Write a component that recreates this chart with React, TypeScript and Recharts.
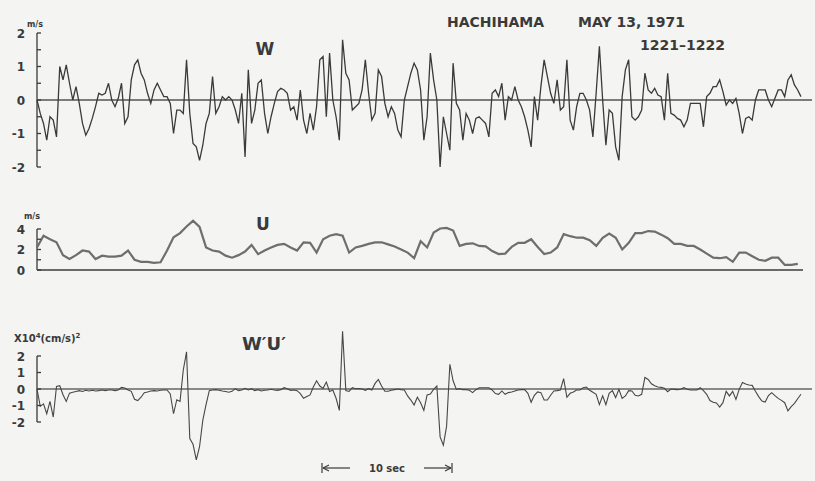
import React from "react";
import { LineChart, Line, XAxis, YAxis, ReferenceLine } from "recharts";

// sample spacing in seconds (the trace is 1 min long, 10 sec = 130 px)
const W_STEP = 0.25;
const U_STEP = 0.5;
const WU_STEP = 0.25;

// vertical velocity W (m/s)
const wValues = [
  0.0, -0.4, -0.7, -1.2, -0.5, -0.6, -1.1, 1.0, 0.6, 1.05,
  0.5, 0.0, 0.4, -0.1, -0.7, -1.05, -0.85, -0.55, -0.2, 0.2,
  0.15, 0.2, 0.5, 0.0, -0.2, 0.05, 0.5, -0.7, -0.5, 0.6,
  1.05, 1.2, 0.8, 0.6, 0.2, -0.1, 0.3, 0.5, 0.3, 0.1,
  0.1, -0.1, -1.0, -0.3, -0.3, -0.4, 1.2, -0.4, -1.3, -1.4,
  -1.8, -1.35, -0.7, -0.4, 0.7, -0.4, -0.2, 0.1, 0.0, 0.1,
  0.0, -0.3, -0.7, 0.2, -1.7, 0.9, -0.7, -0.3, 0.5, 0.6,
  -0.4, -1.0, -0.5, -0.1, 0.25, 0.35, 0.3, 0.2, -0.3, -0.2,
  -0.6, 0.3, -0.6, -1.0, -0.4, -0.9, -0.2, 1.2, 1.3, -0.5,
  1.4, 0.0, -0.5, -1.2, 1.8, 0.8, 0.6, -0.3, -0.2, -0.1,
  0.3, 1.2, 0.2, -0.6, -0.4, 0.9, 0.7, -0.1, -0.5, -0.2,
  -0.4, -0.9, -1.1, 0.0, 0.4, 0.8, 1.1, 0.9, 0.3, -1.2,
  -0.5, 1.4, 0.6, 0.0, -2.0, -0.5, -1.0, -1.5, 1.1, -0.1,
  -0.3, -1.2, -0.4, -0.6, -1.0, -0.55, -0.5, -0.6, -0.7, -1.1,
  0.2, 0.3, 0.1, 0.5, -0.6, 0.1, 0.0, 0.4, 0.0, -0.2,
  -0.5, -0.9, -1.4, 0.1, -0.6, 0.4, 1.2, 0.7, 0.2, -0.1,
  0.6, -0.3, -0.2, 1.2, -0.6, -0.9, -0.2, 0.2, 0.2, 0.0,
  -0.3, -1.1, 0.2, 1.6, 0.0, -1.35, -0.3, -0.4, -1.4, -1.8,
  0.1, 0.9, 1.2, -0.5, -0.6, -0.5, -0.3, 0.8, 0.3, 0.2,
  0.35, 0.15, 0.1, -0.6, 0.8, -0.4, -0.45, -0.55, -0.6, -0.8,
  -0.6, -0.1, -0.1, -0.1, -0.1, -0.8, 0.1, 0.2, 0.4, 0.4,
  0.6, 0.25, -0.15, 0.0, -0.1, 0.05, -0.4, -1.0, -0.55, -0.5,
  -0.6, 0.0, 0.3, 0.3, 0.3, 0.0, -0.2, 0.05, 0.3, 0.3,
  0.1, 0.6, 0.75, 0.45, 0.3, 0.1,
];

// horizontal velocity U (m/s)
const uValues = [
  2.2, 3.35, 3.0, 2.7, 1.45, 1.07, 1.45, 1.9, 1.8, 1.07,
  1.4, 1.3, 1.3, 1.4, 1.9, 1.0, 0.8, 0.8, 0.7, 0.75,
  1.9, 3.2, 3.6, 4.25, 4.8, 4.2, 2.2, 1.9, 1.8, 1.4,
  1.2, 1.45, 1.8, 2.45, 1.55, 1.9, 2.2, 2.45, 2.55, 2.2,
  1.9, 2.7, 2.65, 1.7, 3.0, 3.35, 3.5, 3.35, 1.7, 2.2,
  2.35, 2.55, 2.7, 2.7, 2.5, 2.3, 2.0, 1.7, 1.15, 2.8,
  2.2, 3.65, 4.05, 4.1, 3.85, 2.35, 2.55, 2.6, 2.35, 2.3,
  1.85, 1.55, 1.6, 2.25, 2.65, 2.65, 3.0, 2.25, 1.55, 1.7,
  2.2, 3.5, 3.3, 3.15, 3.15, 2.9, 2.35, 3.15, 3.55, 3.15,
  2.0, 2.65, 3.6, 3.6, 3.8, 3.75, 3.45, 3.1, 2.55, 2.55,
  2.35, 2.35, 2.0, 1.6, 1.2, 1.15, 1.25, 0.8, 1.7, 1.7,
  1.35, 1.0, 0.9, 1.2, 1.2, 0.5, 0.5, 0.6,
];

// momentum flux W'U' (x10^4 (cm/s)^2)
const wuValues = [
  0.0, -1.05, -0.9, -1.5, -0.75, -1.7, 0.15, 0.2, -0.35, -0.75,
  -0.25, -0.2, -0.15, -0.1, -0.15, -0.08, -0.12, -0.08, -0.12, -0.1,
  -0.06, -0.1, -0.06, -0.06, -0.1, -0.06, 0.1, 0.06, -0.06, -0.14,
  -0.62, -0.7, -0.5, -0.22, -0.18, -0.12, -0.1, -0.12, -0.08, -0.06,
  -0.06, -0.3, -1.5, -0.65, -0.75, 1.15, 2.25, -3.0, -3.35, -4.3,
  -3.5, -1.9, -0.95, -0.1, -0.06, -0.04, -0.08, -0.12, -0.15, -0.2,
  -0.14, 0.02, -0.1, -0.06, 0.04, -0.06, 0.02, -0.1, -0.04, -0.12,
  -0.08, -0.06, -0.02, -0.06, -0.08, -0.04, 0.08, 0.02, -0.08, -0.06,
  -0.1, -0.28, -0.56, -0.46, -0.36, 0.12, 0.5, 0.18, 0.04, 0.42,
  -0.15, -0.06, -0.56, -1.3, 3.5, -0.1, -0.15, 0.08, 0.02, 0.02,
  0.0, -0.08, 0.02, -0.06, 0.34, 0.58, 0.18, -0.14, -0.14, -0.08,
  -0.04, 0.0, -0.04, -0.06, -0.42, -0.67, -0.97, -0.5, -0.83, -1.3,
  -0.36, -0.3, -0.02, 0.18, -2.9, -3.4, -2.25, 1.5, 0.5, -0.02,
  0.02, -0.04, -0.04, -0.08, -0.22, -0.04, 0.08, 0.08, 0.08, 0.08,
  -0.06, -0.28, -0.32, -0.12, -0.32, -0.22, -0.18, -0.12, -0.06, -0.04,
  -0.04, -0.26, -0.8, -0.38, -0.18, -0.22, -0.67, -0.67, -0.38, -0.12,
  -0.1, -0.06, 0.63, -0.5, -0.26, -0.18, -0.06, -0.06, 0.08, 0.12,
  -0.08, -0.2, -0.32, -0.95, -0.42, -0.95, -0.26, -0.1, -0.52, -0.02,
  -0.57, -0.42, -0.1, -0.12, -0.38, -0.42, -0.32, 0.7, 0.58, 0.32,
  0.2, 0.12, 0.1, 0.04, -0.16, 0.0, -0.02, -0.04, -0.02, 0.08,
  -0.02, -0.06, -0.06, -0.06, 0.08, -0.1, -0.32, -0.7, -0.8, -0.85,
  -1.1, -0.83, -0.14, -0.42, -0.14, -0.63, -0.02, 0.4, 0.3, 0.24,
  0.22, -0.14, -0.46, -0.73, -0.79, -0.4, -0.22, -0.4, -0.57, -0.69,
  -0.83, -1.33, -1.07, -0.87, -0.59, -0.32,
];

const wTicks = [-2, -1.5, -1, -0.5, 0, 0.5, 1, 1.5, 2];
const wLabels = [-2, -1, 0, 1, 2];
const uTicks = [0, 1, 2, 3, 4];
const uLabels = [0, 2, 4];
const wuTicks = [-2, -1, 0, 1, 2];
const wuLabels = [-2, -1, 0, 1, 2];

const wData = wValues.map((v, i) => ({ t: i * W_STEP, v }));
const uData = uValues.map((v, i) => ({ t: i * U_STEP, v }));
const wuData = wuValues.map((v, i) => ({ t: i * WU_STEP, v }));

const FONT = "'DejaVu Sans', sans-serif";
const INK = "#3a3a3a";
const PAPER = "#f4f4f2";

// bracket tick: short mark pointing into the plot, integer label on the left
function bracketTick(labels: number[]) {
  return (props: any) => {
    const { x, y, payload } = props;
    const v = payload.value;
    return (
      <g>
        <line x1={x} x2={x + 4} y1={y} y2={y} stroke={INK} strokeWidth={1.3} />
        {labels.includes(v) && (
          <text
            x={x - 12}
            y={y + 4.5}
            textAnchor="end"
            fontFamily={FONT}
            fontWeight="bold"
            fontSize={12}
            fill={INK}
          >
            {v < 0 ? `-${Math.abs(v)}` : v}
          </text>
        )}
      </g>
    );
  };
}

export default function App() {
  return (
    <div
      style={{
        position: "absolute",
        left: 0,
        top: 0,
        width: 815,
        height: 481,
        background: PAPER,
        overflow: "hidden",
      }}
    >
      {/* W panel */}
      <div style={{ position: "absolute", left: 0, top: 0 }}>
        <LineChart width={815} height={180} data={wData} margin={{ top: 33, right: 3, left: 0, bottom: 13 }}>
          <XAxis type="number" dataKey="t" domain={[0, 59.6]} hide />
          <YAxis
            domain={[-2, 2]}
            ticks={wTicks}
            width={37}
            axisLine={false}
            tickLine={false}
            tickSize={0}
            tickMargin={0}
            tick={bracketTick(wLabels)}
            interval={0}
          />
          <ReferenceLine segment={[{ x: 0, y: -2 }, { x: 0, y: 2 }]} stroke={INK} strokeWidth={1.3} />
          <ReferenceLine y={0} stroke="#555" strokeWidth={1.6} />
          <Line
            type="linear"
            dataKey="v"
            stroke={INK}
            strokeWidth={1.3}
            dot={false}
            isAnimationActive={false}
          />
        </LineChart>
      </div>

      {/* U panel */}
      <div style={{ position: "absolute", left: 0, top: 200 }}>
        <LineChart width={815} height={80} data={uData} margin={{ top: 18.75, right: 12, left: 0, bottom: 10 }}>
          <XAxis type="number" dataKey="t" domain={[0, 58.9]} hide />
          <YAxis
            domain={[0, 5]}
            ticks={uTicks}
            width={37}
            axisLine={false}
            tickLine={false}
            tickSize={0}
            tickMargin={0}
            tick={bracketTick(uLabels)}
            interval={0}
          />
          <ReferenceLine segment={[{ x: 0, y: 0 }, { x: 0, y: 4 }]} stroke={INK} strokeWidth={1.3} />
          <ReferenceLine y={0} stroke="#6a6a6a" strokeWidth={2} />
          <Line
            type="linear"
            dataKey="v"
            stroke="#6e6e6e"
            strokeWidth={2.2}
            dot={false}
            isAnimationActive={false}
          />
        </LineChart>
      </div>

      {/* W'U' panel */}
      <div style={{ position: "absolute", left: 0, top: 300 }}>
        <LineChart width={815} height={181} data={wuData} margin={{ top: 23, right: 3, left: 0, bottom: 9.5 }}>
          <XAxis type="number" dataKey="t" domain={[0, 59.6]} hide />
          <YAxis
            domain={[-5, 4]}
            ticks={wuTicks}
            width={37}
            axisLine={false}
            tickLine={false}
            tickSize={0}
            tickMargin={0}
            tick={bracketTick(wuLabels)}
            interval={0}
          />
          <ReferenceLine segment={[{ x: 0, y: -2 }, { x: 0, y: 2 }]} stroke={INK} strokeWidth={1.3} />
          <ReferenceLine y={0} stroke="#666" strokeWidth={1.3} />
          <Line
            type="linear"
            dataKey="v"
            stroke="#474747"
            strokeWidth={1.1}
            dot={false}
            isAnimationActive={false}
          />
        </LineChart>
      </div>

      {/* titles, units and the time scale */}
      <svg
        width={815}
        height={481}
        style={{ position: "absolute", left: 0, top: 0, pointerEvents: "none" }}
        fontFamily={FONT}
        fontWeight="bold"
        fill={INK}
      >
        <text x={447} y={27} fontSize={14}>HACHIHAMA</text>
        <text x={578} y={27} fontSize={14}>MAY 13, 1971</text>
        <text x={640} y={50} fontSize={14}>1221–1222</text>

        <text x={265} y={55} fontSize={17} textAnchor="middle">W</text>
        <text x={27} y={27} fontSize={8}>m/s</text>

        <text x={263} y={230} fontSize={17} textAnchor="middle">U</text>
        <text x={24} y={219} fontSize={8}>m/s</text>

        <text x={264} y={350} fontSize={18} textAnchor="middle">W′U′</text>
        <text x={14} y={342} fontSize={10}>
          X10<tspan dy={-4} fontSize={7}>4</tspan>
          <tspan dy={4}>(cm/s)</tspan>
          <tspan dy={-4} fontSize={7}>2</tspan>
        </text>

        <g stroke={INK} strokeWidth={1.2}>
          <line x1={322} x2={322} y1={463} y2={473} />
          <line x1={323} x2={350} y1={468} y2={468} />
          <line x1={323} x2={329} y1={468} y2={465} />
          <line x1={323} x2={329} y1={468} y2={471} />
          <line x1={424} x2={451} y1={468} y2={468} />
          <line x1={451} x2={445} y1={468} y2={465} />
          <line x1={451} x2={445} y1={468} y2={471} />
          <line x1={452} x2={452} y1={463} y2={473} />
        </g>
        <text x={387} y={472} fontSize={10} textAnchor="middle">10 sec</text>
      </svg>
    </div>
  );
}
